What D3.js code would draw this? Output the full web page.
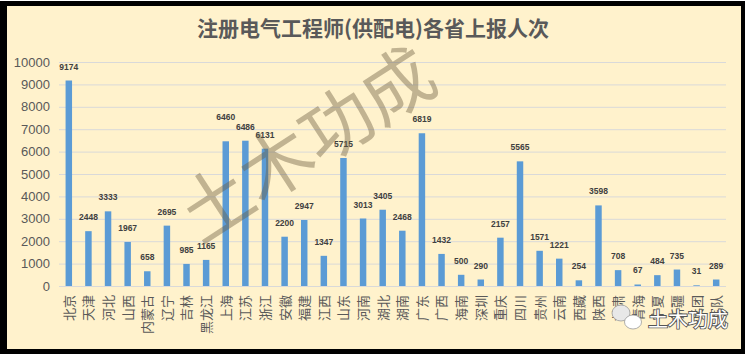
<!DOCTYPE html>
<html>
<head>
<meta charset="utf-8">
<script src="https://cdn.jsdelivr.net/npm/d3@7"></script>
<style>
  html, body { margin: 0; padding: 0; background: #fff; }
  svg { display: block; }
</style>
</head>
<body>
<svg id="chart"></svg>
<script>
// Chart data
const provinces = ["北京", "天津", "河北", "山西", "内蒙古", "辽宁", "吉林", "黑龙江", "上海", "江苏",
  "浙江", "安徽", "福建", "江西", "山东", "河南", "湖北", "湖南", "广东", "广西",
  "海南", "深圳", "重庆", "四川", "贵州", "云南", "西藏", "陕西", "甘肃", "青海",
  "宁夏", "新疆", "兵团", "军队"];
const reportCounts = [9174, 2448, 3333, 1967, 658, 2695, 985, 1165, 6460, 6486,
  6131, 2200, 2947, 1347, 5715, 3013, 3405, 2468, 6819, 1432,
  500, 290, 2157, 5565, 1571, 1221, 254, 3598, 708, 67,
  484, 735, 31, 289];
const yTickValues = [0, 1000, 2000, 3000, 4000, 5000, 6000, 7000, 8000, 9000, 10000];
const chartTitle = "注册电气工程师(供配电)各省上报人次";
const watermarkText = "土木功成";

const size = { width: 745, height: 354 };
const plot = { left: 59, right: 726, top: 62, bottom: 286 };

const svg = d3.select("#chart")
  .attr("width", size.width)
  .attr("height", size.height);

// black frame + yellow chart area
svg.append("rect")
  .attr("x", 0).attr("y", 1)
  .attr("width", size.width).attr("height", size.height - 1)
  .attr("fill", "#000");
svg.append("rect")
  .attr("x", 7).attr("y", 6)
  .attr("width", 734).attr("height", 343)
  .attr("fill", "#FFF2CC");

// title
svg.append("text")
  .attr("x", 373)
  .attr("y", 36)
  .attr("text-anchor", "middle")
  .attr("font-family", "'Noto Sans CJK SC', sans-serif")
  .attr("font-weight", "bold")
  .attr("font-size", 21)
  .attr("fill", "#595959")
  .text(chartTitle);

// scales
const xScale = d3.scaleBand()
  .domain(provinces)
  .range([plot.left, plot.right])
  .paddingInner(0.67)
  .paddingOuter(0.335);

const yScale = d3.scaleLinear()
  .domain([0, 10000])
  .range([plot.bottom, plot.top]);

// gridlines
const grid = svg.append("g")
  .attr("transform", "translate(" + plot.left + ",0)")
  .call(d3.axisLeft(yScale)
    .tickValues(yTickValues)
    .tickSize(-(plot.right - plot.left))
    .tickFormat(""));
grid.select(".domain").remove();
grid.selectAll("line").attr("stroke", "#D9D9D9").attr("stroke-width", 1);

// y axis labels
const yAxis = svg.append("g")
  .attr("transform", "translate(" + plot.left + ",0)")
  .call(d3.axisLeft(yScale)
    .tickValues(yTickValues)
    .tickSize(0)
    .tickPadding(9)
    .tickFormat(d3.format("d")));
yAxis.select(".domain").remove();
yAxis.selectAll("text")
  .attr("font-family", "'Liberation Sans', Arial, sans-serif")
  .attr("font-size", 13)
  .attr("fill", "#595959");

// bars
svg.append("g")
  .selectAll("rect")
  .data(reportCounts)
  .enter()
  .append("rect")
  .attr("x", (d, i) => xScale(provinces[i]))
  .attr("y", (d) => yScale(d))
  .attr("width", xScale.bandwidth())
  .attr("height", (d) => yScale(0) - yScale(d))
  .attr("fill", "#5B9BD5");

// value labels: sit above the bar, bump up when level with the next label
const labelY = reportCounts.map((d) => yScale(d) - 11);
for (let i = labelY.length - 2; i >= 0; i--) {
  if (Math.abs(labelY[i] - labelY[i + 1]) < 2) {
    labelY[i] = labelY[i + 1] - 10;
  }
}

svg.append("g")
  .selectAll("text")
  .data(reportCounts)
  .enter()
  .append("text")
  .attr("x", (d, i) => xScale(provinces[i]) + xScale.bandwidth() / 2)
  .attr("y", (d, i) => labelY[i])
  .attr("text-anchor", "middle")
  .attr("font-family", "'Liberation Sans', Arial, sans-serif")
  .attr("font-weight", "bold")
  .attr("font-size", 8.5)
  .attr("fill", "#404040")
  .text((d) => d);

// x axis (vertical labels)
const xAxis = svg.append("g")
  .attr("transform", "translate(0," + plot.bottom + ")")
  .call(d3.axisBottom(xScale).tickSize(0));
xAxis.select(".domain").remove();
xAxis.selectAll("text")
  .attr("transform", "rotate(-90)")
  .attr("x", -9)
  .attr("y", 0)
  .attr("dy", "0.38em")
  .attr("text-anchor", "end")
  .attr("font-family", "'Noto Sans CJK SC', sans-serif")
  .attr("font-size", 13)
  .attr("fill", "#595959");

// big diagonal watermark
svg.append("text")
  .attr("transform", "translate(306,143) rotate(-33)")
  .attr("text-anchor", "middle")
  .attr("dy", "0.38em")
  .attr("font-family", "'Noto Sans CJK SC', sans-serif")
  .attr("font-weight", 400)
  .attr("font-size", 72)
  .attr("fill", "#6b5d40")
  .attr("fill-opacity", 0.42)
  .text(watermarkText);

// wechat logo in the corner
const logo = svg.append("g");
logo.append("ellipse")
  .attr("cx", 621).attr("cy", 313).attr("rx", 9).attr("ry", 8)
  .attr("fill", "#e8e8e8").attr("stroke", "#9a9a9a").attr("stroke-width", 0.8);
logo.append("ellipse")
  .attr("cx", 633).attr("cy", 322).attr("rx", 8.5).attr("ry", 7)
  .attr("fill", "#fff").attr("stroke", "#9a9a9a").attr("stroke-width", 0.8);
logo.append("text")
  .attr("x", 648)
  .attr("y", 327)
  .attr("font-family", "'Noto Sans CJK SC', sans-serif")
  .attr("font-size", 20)
  .attr("fill", "#fff")
  .attr("stroke", "#555")
  .attr("stroke-width", 1.8)
  .attr("paint-order", "stroke")
  .text(watermarkText);
</script>
</body>
</html>
